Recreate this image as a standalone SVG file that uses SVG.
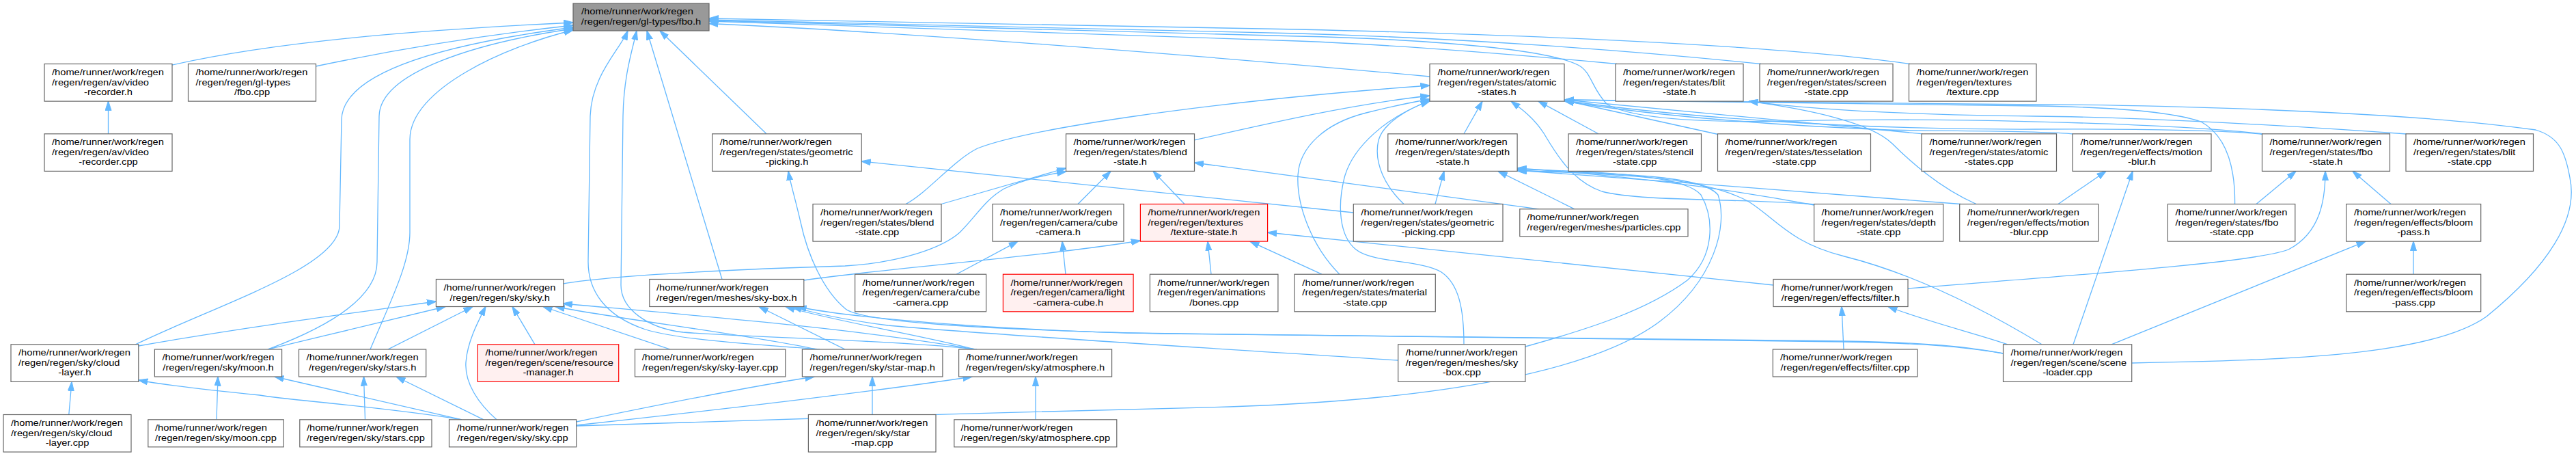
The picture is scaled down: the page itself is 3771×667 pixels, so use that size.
<svg xmlns="http://www.w3.org/2000/svg" width="3771" height="667" viewBox="0 0 3771 667">
<style>
text{font-family:"Liberation Sans",Arial,sans-serif;font-size:13.3px;fill:#000}
.c{text-anchor:middle}
.n rect{fill:#fff;stroke:#666;stroke-width:1.2}
.r rect{fill:#fff0f0;stroke:#ff0000;stroke-width:1.2}
.root rect{fill:#999;stroke:#666;stroke-width:1.2}
#edges path{fill:none;stroke:#63b8ff;stroke-width:1.3;marker-end:url(#ah)}
</style>
<defs>
<marker id="ah" viewBox="0 0 14 10" refX="13.5" refY="5" markerWidth="14" markerHeight="10" markerUnits="userSpaceOnUse" orient="auto"><path d="M0,0.5 L14,5 L0,9.5 Z" fill="#63b8ff" stroke="#63b8ff" stroke-width="1"/></marker>
</defs>
<rect width="3771" height="667" fill="#fff"/>
<g id="edges">
<path d="M252,95 C420,57 650,42 839,33"/>
<path d="M462,97 C600,68 720,50 839,37"/>
<path d="M158.5,195.8 L158.5,148.1"/>
<path d="M198,504 C320,445 497,390 497,330 L500,175 C502,95 700,58 839,40"/>
<path d="M392,511 C470,482 552,440 552,383 L555,170 C556,105 700,62 839,42"/>
<path d="M542,511 C572,440 600,385 600,340 L600,204 C600,130 740,68 839,44"/>
<path d="M1200,511 C1100,503 1000,498 945,482 C885,462 861,425 861,383 L864,170 C866,110 908,72 919,45"/>
<path d="M1430,511 C1300,497 1100,494 1000,486 C948,480 909,452 909,417 L912,170 C913,110 926,72 932,45"/>
<path d="M1057,408.5 L947,45"/>
<path d="M1122,195.8 L966,45"/>
<path d="M2093,112 C1700,76 1300,46 1038,34.5"/>
<path d="M2796,93.5 C2600,65 2200,50 1900,43 C1500,36 1200,29 1038,27"/>
<path d="M2578,93.5 C2400,75 2150,56 1900,49 C1500,39 1200,32 1038,29"/>
<path d="M2367,93.5 C2200,78 2050,66 1900,60 C1500,46 1200,36 1038,31"/>
<path d="M3313,195.8 C3150,178 2800,172 2620,177 C2480,180 2390,173 2353,153 C2330,130 2330,105 2310,95 C2250,65 2000,55 1900,53 C1500,44 1200,34 1038,30"/>
<path d="M1748.5,205 C1850,182 1980,152 2093,140"/>
<path d="M1326,298.5 C1360,280 1395,235 1431,217 C1500,190 1750,150 2093,125"/>
<path d="M1378,298.5 L1560.5,246"/>
<path d="M824.3,415 C900,402 1100,393 1237,389 C1320,384 1380,362 1405,340 C1430,315 1442,292 1470,276 C1500,262 1530,256 1560.5,251"/>
<path d="M1578,298.5 L1626,250.4"/>
<path d="M1734,298.5 L1688,250.4"/>
<path d="M2253,305.8 L1748.5,238"/>
<path d="M1400,401.2 L1490,353.1"/>
<path d="M1560,401.2 L1555,353.1"/>
<path d="M1773,401.2 L1768,353.1"/>
<path d="M1935,401.2 L1830,353.1"/>
<path d="M1961,401.2 C1920,360 1898,300 1900,257 C1902,215 1940,180 2000,165 C2040,155 2070,149 2093,145"/>
<path d="M1176.5,410 C1300,392 1520,376 1669.4,352"/>
<path d="M2596,417 L1855.6,340"/>
<path d="M2793,422 C3000,405 3300,385 3350,365 C3398,340 3404,290 3404,250.4"/>
<path d="M2699,511 L2696,448.5"/>
<path d="M2939,503.8 C2900,490 2820,470 2764,448.5"/>
<path d="M1981.3,311 L1261.2,236"/>
<path d="M2055,298.5 C2030,275 2010,240 2018,205 C2025,180 2060,160 2093,147"/>
<path d="M2101,298.5 L2114,250.4"/>
<path d="M2305,305.8 L2193,250.4"/>
<path d="M2143,195.8 L2170,148.1"/>
<path d="M2657,299 C2550,290 2400,295 2345,280 C2300,265 2275,220 2260,195 C2245,172 2228,160 2212,148.1"/>
<path d="M2656,300 C2550,280 2400,258 2221.1,246"/>
<path d="M2340,195.8 L2252,148.1"/>
<path d="M2515,196.5 L2290.5,147"/>
<path d="M2815,195.8 L2290.5,146"/>
<path d="M3035,196 C2990,191 2850,192 2765,190 C2550,181 2400,166 2290.5,148"/>
<path d="M3312,196.5 C3280,192 3150,188 2980,189 C2700,190 2450,170 2290.5,147"/>
<path d="M3271.6,298.5 C3272,250 3262,200 3222,178 C3170,160 3050,156 2980,155 C2700,152 2450,150 2290.5,146"/>
<path d="M3303,298.5 L3361,250.4"/>
<path d="M3523,196 C3300,180 3100,171 2980,170 C2800,168 2650,160 2560,148.1"/>
<path d="M3013,298.5 L3083,250.4"/>
<path d="M2870,298.5 C2700,285 2400,262 2221.1,249"/>
<path d="M2893,298.5 C2840,275 2800,240 2770,210 C2740,180 2650,160 2560,148.1"/>
<path d="M3035,503.8 L3122,250.4"/>
<path d="M3533,401.2 L3533,353.1"/>
<path d="M3500,298.5 L3444,250.4"/>
<path d="M3091,503.8 L3463,353.1"/>
<path d="M2989,503.8 C2900,450 2800,400 2700,375 C2620,355 2600,320 2560,295 C2500,262 2400,255 2221.1,249.5"/>
<path d="M3120.7,531 C3350,527 3560,520 3640,463 C3730,390 3775,320 3762,260 C3755,220 3745,200 3712,190 C3500,160 3100,153 2980,153 C2700,150 2450,148 2290.5,146"/>
<path d="M2932.5,517 C2880,508 2820,502 2700,500 C2300,494 1900,490 1650,487 C1450,481 1250,466 1167,448.5"/>
<path d="M2046.7,527 C1800,511 1450,490 1300,476 C1230,467 1185,456 1160,448.5"/>
<path d="M2932.5,517 C2880,507 2820,501 2700,499 C2300,495 1950,493 1700,488 C1450,482 1265,472 1238,452 C1205,425 1182,372 1172,325 C1164,290 1157,268 1154,250.4"/>
<path d="M2143,503.8 C2143,450 2135,415 2110,398 C2080,380 2010,385 1985,365 C1960,345 1958,300 1968,260 C1980,215 2030,170 2093,148"/>
<path d="M2232.9,507 C2330,480 2412,453 2470,410 C2510,375 2510,320 2490,285 C2470,260 2380,252 2221.1,247.5"/>
<path d="M843.7,623 C1100,614 1500,602 1800,595 C2100,585 2330,545 2430,470 C2510,410 2530,330 2515,285 C2495,260 2400,253 2221.1,250"/>
<path d="M727,613.8 C700,590 680,560 682,530 C684,500 700,470 711,448.5"/>
<path d="M676,613.8 C560,595 420,585 380,578 C300,570 240,563 202.8,556"/>
<path d="M676,613.8 L402,551"/>
<path d="M708,613.8 L580,551"/>
<path d="M843.7,617 C950,595 1100,565 1192,551"/>
<path d="M843.7,622 C1050,600 1300,570 1423,551"/>
<path d="M202.8,506 C350,480 500,460 638.4,441"/>
<path d="M392,511 C480,490 580,466 652,448.5"/>
<path d="M568,511 L692,448.5"/>
<path d="M783,503.8 L750,448.5"/>
<path d="M981,511 L795,448.5"/>
<path d="M1195,511 C1100,490 900,466 813,448.5"/>
<path d="M1427,511 C1250,480 1000,460 824.3,444"/>
<path d="M1237,511 L1111,448.5"/>
<path d="M1427,511 C1350,490 1220,470 1150,448.5"/>
<path d="M1277,606.5 L1277,551"/>
<path d="M1516,613.8 L1516,551"/>
<path d="M100.8,606.5 L105,558.4"/>
<path d="M317,613.8 L319,551"/>
<path d="M534.5,613.8 L532.5,551"/>
</g>
<g id="root" class="root"><rect x="839" y="5" width="199" height="40"/><text transform="matrix(1.104 0 0 1 851 21.3)">/home/runner/work/regen</text><text class="c" transform="matrix(1.104 0 0 1 938.5 36)">/regen/regen/gl-types/fbo.h</text></g>
<g id="video-recorder-h" class="n"><rect x="65" y="93.5" width="187" height="54.6"/><text transform="matrix(1.104 0 0 1 76 109.8)">/home/runner/work/regen</text><text transform="matrix(1.104 0 0 1 76 124.5)">/regen/regen/av/video</text><text class="c" transform="matrix(1.104 0 0 1 158.5 139.1)">-recorder.h</text></g>
<g id="fbo-cpp" class="n"><rect x="275.5" y="93.5" width="187" height="54.6"/><text transform="matrix(1.104 0 0 1 286.5 109.8)">/home/runner/work/regen</text><text transform="matrix(1.104 0 0 1 286.5 124.5)">/regen/regen/gl-types</text><text class="c" transform="matrix(1.104 0 0 1 369 139.1)">/fbo.cpp</text></g>
<g id="atomic-states-h" class="n"><rect x="2093" y="93.5" width="197" height="54.6"/><text transform="matrix(1.104 0 0 1 2104.5 109.8)">/home/runner/work/regen</text><text transform="matrix(1.104 0 0 1 2104.5 124.5)">/regen/regen/states/atomic</text><text class="c" transform="matrix(1.104 0 0 1 2191.5 139.1)">-states.h</text></g>
<g id="blit-state-h" class="n"><rect x="2365" y="93.5" width="187" height="54.6"/><text transform="matrix(1.104 0 0 1 2376 109.8)">/home/runner/work/regen</text><text transform="matrix(1.104 0 0 1 2376 124.5)">/regen/regen/states/blit</text><text class="c" transform="matrix(1.104 0 0 1 2458.5 139.1)">-state.h</text></g>
<g id="screen-state-cpp" class="n"><rect x="2576" y="93.5" width="195" height="54.6"/><text transform="matrix(1.104 0 0 1 2587 109.8)">/home/runner/work/regen</text><text transform="matrix(1.104 0 0 1 2587 124.5)">/regen/regen/states/screen</text><text class="c" transform="matrix(1.104 0 0 1 2673.5 139.1)">-state.cpp</text></g>
<g id="texture-cpp" class="n"><rect x="2794.5" y="93.5" width="186.5" height="54.6"/><text transform="matrix(1.104 0 0 1 2805.5 109.8)">/home/runner/work/regen</text><text transform="matrix(1.104 0 0 1 2805.5 124.5)">/regen/regen/textures</text><text class="c" transform="matrix(1.104 0 0 1 2887.75 139.1)">/texture.cpp</text></g>
<g id="video-recorder-cpp" class="n"><rect x="65" y="195.8" width="187" height="54.6"/><text transform="matrix(1.104 0 0 1 76 212.1)">/home/runner/work/regen</text><text transform="matrix(1.104 0 0 1 76 226.8)">/regen/regen/av/video</text><text class="c" transform="matrix(1.104 0 0 1 158.5 241.4)">-recorder.cpp</text></g>
<g id="geometric-picking-h" class="n"><rect x="1042.7" y="195.8" width="218.5" height="54.6"/><text transform="matrix(1.104 0 0 1 1053.7 212.1)">/home/runner/work/regen</text><text transform="matrix(1.104 0 0 1 1053.7 226.8)">/regen/regen/states/geometric</text><text class="c" transform="matrix(1.104 0 0 1 1151.95 241.4)">-picking.h</text></g>
<g id="blend-state-h" class="n"><rect x="1560.5" y="195.8" width="188" height="54.6"/><text transform="matrix(1.104 0 0 1 1571.5 212.1)">/home/runner/work/regen</text><text transform="matrix(1.104 0 0 1 1571.5 226.8)">/regen/regen/states/blend</text><text class="c" transform="matrix(1.104 0 0 1 1654.5 241.4)">-state.h</text></g>
<g id="depth-state-h" class="n"><rect x="2031.8" y="195.8" width="189.3" height="54.6"/><text transform="matrix(1.104 0 0 1 2042.8 212.1)">/home/runner/work/regen</text><text transform="matrix(1.104 0 0 1 2042.8 226.8)">/regen/regen/states/depth</text><text class="c" transform="matrix(1.104 0 0 1 2126.45 241.4)">-state.h</text></g>
<g id="stencil-state-cpp" class="n"><rect x="2296" y="195.8" width="194.5" height="54.6"/><text transform="matrix(1.104 0 0 1 2307 212.1)">/home/runner/work/regen</text><text transform="matrix(1.104 0 0 1 2307 226.8)">/regen/regen/states/stencil</text><text class="c" transform="matrix(1.104 0 0 1 2393.25 241.4)">-state.cpp</text></g>
<g id="tesselation-state-cpp" class="n"><rect x="2514.5" y="195.8" width="224" height="54.6"/><text transform="matrix(1.104 0 0 1 2525.5 212.1)">/home/runner/work/regen</text><text transform="matrix(1.104 0 0 1 2525.5 226.8)">/regen/regen/states/tesselation</text><text class="c" transform="matrix(1.104 0 0 1 2626.5 241.4)">-state.cpp</text></g>
<g id="atomic-states-cpp" class="n"><rect x="2813" y="195.8" width="197.5" height="54.6"/><text transform="matrix(1.104 0 0 1 2824.5 212.1)">/home/runner/work/regen</text><text transform="matrix(1.104 0 0 1 2824.5 226.8)">/regen/regen/states/atomic</text><text class="c" transform="matrix(1.104 0 0 1 2911.75 241.4)">-states.cpp</text></g>
<g id="motion-blur-h" class="n"><rect x="3034" y="195.8" width="203" height="54.6"/><text transform="matrix(1.104 0 0 1 3045.5 212.1)">/home/runner/work/regen</text><text transform="matrix(1.104 0 0 1 3045.5 226.8)">/regen/regen/effects/motion</text><text class="c" transform="matrix(1.104 0 0 1 3135.5 241.4)">-blur.h</text></g>
<g id="fbo-state-h" class="n"><rect x="3311.5" y="195.8" width="187" height="54.6"/><text transform="matrix(1.104 0 0 1 3322.5 212.1)">/home/runner/work/regen</text><text transform="matrix(1.104 0 0 1 3322.5 226.8)">/regen/regen/states/fbo</text><text class="c" transform="matrix(1.104 0 0 1 3405 241.4)">-state.h</text></g>
<g id="blit-state-cpp" class="n"><rect x="3522" y="195.8" width="186.5" height="54.6"/><text transform="matrix(1.104 0 0 1 3533 212.1)">/home/runner/work/regen</text><text transform="matrix(1.104 0 0 1 3533 226.8)">/regen/regen/states/blit</text><text class="c" transform="matrix(1.104 0 0 1 3615.25 241.4)">-state.cpp</text></g>
<g id="blend-state-cpp" class="n"><rect x="1190" y="298.5" width="188" height="54.6"/><text transform="matrix(1.104 0 0 1 1201 314.8)">/home/runner/work/regen</text><text transform="matrix(1.104 0 0 1 1201 329.5)">/regen/regen/states/blend</text><text class="c" transform="matrix(1.104 0 0 1 1284 344.1)">-state.cpp</text></g>
<g id="cube-camera-h" class="n"><rect x="1453" y="298.5" width="192" height="54.6"/><text transform="matrix(1.104 0 0 1 1464 314.8)">/home/runner/work/regen</text><text transform="matrix(1.104 0 0 1 1464 329.5)">/regen/regen/camera/cube</text><text class="c" transform="matrix(1.104 0 0 1 1549 344.1)">-camera.h</text></g>
<g id="texture-state-h" class="r"><rect x="1669.4" y="298.5" width="186.2" height="54.6"/><text transform="matrix(1.104 0 0 1 1680.4 314.8)">/home/runner/work/regen</text><text transform="matrix(1.104 0 0 1 1680.4 329.5)">/regen/regen/textures</text><text class="c" transform="matrix(1.104 0 0 1 1762.5 344.1)">/texture-state.h</text></g>
<g id="geometric-picking-cpp" class="n"><rect x="1981.3" y="298.5" width="218.7" height="54.6"/><text transform="matrix(1.104 0 0 1 1992.3 314.8)">/home/runner/work/regen</text><text transform="matrix(1.104 0 0 1 1992.3 329.5)">/regen/regen/states/geometric</text><text class="c" transform="matrix(1.104 0 0 1 2090.65 344.1)">-picking.cpp</text></g>
<g id="particles-cpp" class="n"><rect x="2224.8" y="305.8" width="246.2" height="40"/><text transform="matrix(1.104 0 0 1 2235.3 322.1)">/home/runner/work/regen</text><text class="c" transform="matrix(1.104 0 0 1 2347.9 336.8)">/regen/regen/meshes/particles.cpp</text></g>
<g id="depth-state-cpp" class="n"><rect x="2655.6" y="298.5" width="189" height="54.6"/><text transform="matrix(1.104 0 0 1 2666.6 314.8)">/home/runner/work/regen</text><text transform="matrix(1.104 0 0 1 2666.6 329.5)">/regen/regen/states/depth</text><text class="c" transform="matrix(1.104 0 0 1 2750.1 344.1)">-state.cpp</text></g>
<g id="motion-blur-cpp" class="n"><rect x="2868.7" y="298.5" width="203" height="54.6"/><text transform="matrix(1.104 0 0 1 2880 314.8)">/home/runner/work/regen</text><text transform="matrix(1.104 0 0 1 2880 329.5)">/regen/regen/effects/motion</text><text class="c" transform="matrix(1.104 0 0 1 2970.2 344.1)">-blur.cpp</text></g>
<g id="fbo-state-cpp" class="n"><rect x="3173.4" y="298.5" width="186.4" height="54.6"/><text transform="matrix(1.104 0 0 1 3184.4 314.8)">/home/runner/work/regen</text><text transform="matrix(1.104 0 0 1 3184.4 329.5)">/regen/regen/states/fbo</text><text class="c" transform="matrix(1.104 0 0 1 3266.6 344.1)">-state.cpp</text></g>
<g id="bloom-pass-h" class="n"><rect x="3434.7" y="298.5" width="197" height="54.6"/><text transform="matrix(1.104 0 0 1 3446 314.8)">/home/runner/work/regen</text><text transform="matrix(1.104 0 0 1 3446 329.5)">/regen/regen/effects/bloom</text><text class="c" transform="matrix(1.104 0 0 1 3533.2 344.1)">-pass.h</text></g>
<g id="sky-h" class="n"><rect x="638.4" y="408.5" width="186.5" height="40"/><text transform="matrix(1.104 0 0 1 649.4 424.8)">/home/runner/work/regen</text><text class="c" transform="matrix(1.104 0 0 1 731.65 439.5)">/regen/regen/sky/sky.h</text></g>
<g id="sky-box-h" class="n"><rect x="950.8" y="408.5" width="226" height="40"/><text transform="matrix(1.104 0 0 1 961 424.8)">/home/runner/work/regen</text><text class="c" transform="matrix(1.104 0 0 1 1063.8 439.5)">/regen/regen/meshes/sky-box.h</text></g>
<g id="cube-camera-cpp" class="n"><rect x="1251.6" y="401.2" width="192" height="54.6"/><text transform="matrix(1.104 0 0 1 1262.6 417.5)">/home/runner/work/regen</text><text transform="matrix(1.104 0 0 1 1262.6 432.2)">/regen/regen/camera/cube</text><text class="c" transform="matrix(1.104 0 0 1 1347.6 446.8)">-camera.cpp</text></g>
<g id="light-camera-cube-h" class="r"><rect x="1468.4" y="401.2" width="190.7" height="54.6"/><text transform="matrix(1.104 0 0 1 1479.4 417.5)">/home/runner/work/regen</text><text transform="matrix(1.104 0 0 1 1479.4 432.2)">/regen/regen/camera/light</text><text class="c" transform="matrix(1.104 0 0 1 1563.75 446.8)">-camera-cube.h</text></g>
<g id="bones-cpp" class="n"><rect x="1683.4" y="401.2" width="187.5" height="54.6"/><text transform="matrix(1.104 0 0 1 1694.4 417.5)">/home/runner/work/regen</text><text transform="matrix(1.104 0 0 1 1694.4 432.2)">/regen/regen/animations</text><text class="c" transform="matrix(1.104 0 0 1 1777.15 446.8)">/bones.cpp</text></g>
<g id="material-state-cpp" class="n"><rect x="1895" y="401.2" width="206.3" height="54.6"/><text transform="matrix(1.104 0 0 1 1906.3 417.5)">/home/runner/work/regen</text><text transform="matrix(1.104 0 0 1 1906.3 432.2)">/regen/regen/states/material</text><text class="c" transform="matrix(1.104 0 0 1 1998.15 446.8)">-state.cpp</text></g>
<g id="filter-h" class="n"><rect x="2596" y="408.5" width="197" height="40"/><text transform="matrix(1.104 0 0 1 2607.2 424.8)">/home/runner/work/regen</text><text class="c" transform="matrix(1.104 0 0 1 2694.5 439.5)">/regen/regen/effects/filter.h</text></g>
<g id="bloom-pass-cpp" class="n"><rect x="3434.7" y="401.2" width="197" height="54.6"/><text transform="matrix(1.104 0 0 1 3446 417.5)">/home/runner/work/regen</text><text transform="matrix(1.104 0 0 1 3446 432.2)">/regen/regen/effects/bloom</text><text class="c" transform="matrix(1.104 0 0 1 3533.2 446.8)">-pass.cpp</text></g>
<g id="cloud-layer-h" class="n"><rect x="16" y="503.8" width="186.8" height="54.6"/><text transform="matrix(1.104 0 0 1 27 520.1)">/home/runner/work/regen</text><text transform="matrix(1.104 0 0 1 27 534.8)">/regen/regen/sky/cloud</text><text class="c" transform="matrix(1.104 0 0 1 109.4 549.4)">-layer.h</text></g>
<g id="moon-h" class="n"><rect x="226.4" y="511" width="186.2" height="40"/><text transform="matrix(1.104 0 0 1 237.5 527.3)">/home/runner/work/regen</text><text class="c" transform="matrix(1.104 0 0 1 319.5 542)">/regen/regen/sky/moon.h</text></g>
<g id="stars-h" class="n"><rect x="437.5" y="511" width="186.2" height="40"/><text transform="matrix(1.104 0 0 1 448.6 527.3)">/home/runner/work/regen</text><text class="c" transform="matrix(1.104 0 0 1 530.6 542)">/regen/regen/sky/stars.h</text></g>
<g id="resource-manager-h" class="r"><rect x="699.4" y="503.8" width="206.3" height="54.6"/><text transform="matrix(1.104 0 0 1 710.4 520.1)">/home/runner/work/regen</text><text transform="matrix(1.104 0 0 1 710.4 534.8)">/regen/regen/scene/resource</text><text class="c" transform="matrix(1.104 0 0 1 802.55 549.4)">-manager.h</text></g>
<g id="sky-layer-cpp" class="n"><rect x="929.5" y="511" width="220.3" height="40"/><text transform="matrix(1.104 0 0 1 939.7 527.3)">/home/runner/work/regen</text><text class="c" transform="matrix(1.104 0 0 1 1039.65 542)">/regen/regen/sky/sky-layer.cpp</text></g>
<g id="star-map-h" class="n"><rect x="1174.4" y="511" width="205.5" height="40"/><text transform="matrix(1.104 0 0 1 1185.4 527.3)">/home/runner/work/regen</text><text class="c" transform="matrix(1.104 0 0 1 1277.15 542)">/regen/regen/sky/star-map.h</text></g>
<g id="atmosphere-h" class="n"><rect x="1403.6" y="511" width="224" height="40"/><text transform="matrix(1.104 0 0 1 1414 527.3)">/home/runner/work/regen</text><text class="c" transform="matrix(1.104 0 0 1 1515.6 542)">/regen/regen/sky/atmosphere.h</text></g>
<g id="sky-box-cpp" class="n"><rect x="2046.7" y="503.8" width="186.2" height="54.6"/><text transform="matrix(1.104 0 0 1 2057.7 520.1)">/home/runner/work/regen</text><text transform="matrix(1.104 0 0 1 2057.7 534.8)">/regen/regen/meshes/sky</text><text class="c" transform="matrix(1.104 0 0 1 2139.8 549.4)">-box.cpp</text></g>
<g id="filter-cpp" class="n"><rect x="2595.3" y="511" width="211.6" height="40"/><text transform="matrix(1.104 0 0 1 2606 527.3)">/home/runner/work/regen</text><text class="c" transform="matrix(1.104 0 0 1 2701.1 542)">/regen/regen/effects/filter.cpp</text></g>
<g id="scene-loader-cpp" class="n"><rect x="2932.5" y="503.8" width="188.2" height="54.6"/><text transform="matrix(1.104 0 0 1 2943.5 520.1)">/home/runner/work/regen</text><text transform="matrix(1.104 0 0 1 2943.5 534.8)">/regen/regen/scene/scene</text><text class="c" transform="matrix(1.104 0 0 1 3026.6 549.4)">-loader.cpp</text></g>
<g id="cloud-layer-cpp" class="n"><rect x="5" y="606.5" width="187" height="54.6"/><text transform="matrix(1.104 0 0 1 16 622.8)">/home/runner/work/regen</text><text transform="matrix(1.104 0 0 1 16 637.5)">/regen/regen/sky/cloud</text><text class="c" transform="matrix(1.104 0 0 1 98.5 652.1)">-layer.cpp</text></g>
<g id="moon-cpp" class="n"><rect x="216.8" y="613.8" width="198.4" height="40"/><text transform="matrix(1.104 0 0 1 227 630.1)">/home/runner/work/regen</text><text class="c" transform="matrix(1.104 0 0 1 316 644.8)">/regen/regen/sky/moon.cpp</text></g>
<g id="stars-cpp" class="n"><rect x="438.8" y="613.8" width="193.2" height="40"/><text transform="matrix(1.104 0 0 1 448.9 630.1)">/home/runner/work/regen</text><text class="c" transform="matrix(1.104 0 0 1 535.4 644.8)">/regen/regen/sky/stars.cpp</text></g>
<g id="sky-cpp" class="n"><rect x="657.5" y="613.8" width="186.2" height="40"/><text transform="matrix(1.104 0 0 1 668.5 630.1)">/home/runner/work/regen</text><text class="c" transform="matrix(1.104 0 0 1 750.6 644.8)">/regen/regen/sky/sky.cpp</text></g>
<g id="star-map-cpp" class="n"><rect x="1183.4" y="606.5" width="186.6" height="54.6"/><text transform="matrix(1.104 0 0 1 1194.4 622.8)">/home/runner/work/regen</text><text transform="matrix(1.104 0 0 1 1194.4 637.5)">/regen/regen/sky/star</text><text class="c" transform="matrix(1.104 0 0 1 1276.7 652.1)">-map.cpp</text></g>
<g id="atmosphere-cpp" class="n"><rect x="1396.8" y="613.8" width="238" height="40"/><text transform="matrix(1.104 0 0 1 1406.5 630.1)">/home/runner/work/regen</text><text class="c" transform="matrix(1.104 0 0 1 1515.8 644.8)">/regen/regen/sky/atmosphere.cpp</text></g>
</svg>
